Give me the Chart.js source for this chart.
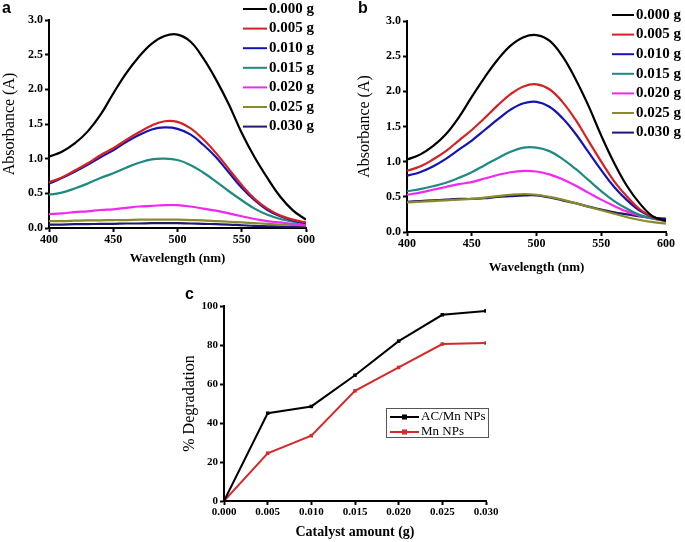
<!DOCTYPE html>
<html><head><meta charset="utf-8">
<script src="https://cdn.jsdelivr.net/npm/chart.js@4"></script>
<style>
html,body{margin:0;padding:0;background:#fff;width:685px;height:542px;overflow:hidden;position:relative}
canvas{position:absolute;display:block}
.lbl{position:absolute;font:bold 16px "Liberation Sans",Arial,sans-serif;color:#000;line-height:16px}
</style></head><body>
<canvas id="ca" width="340" height="270" style="left:0;top:0"></canvas>
<canvas id="cb" width="345" height="278" style="left:340px;top:0"></canvas>
<canvas id="cc" width="330" height="262" style="left:170px;top:280px"></canvas>
<div class="lbl" style="left:2px;top:0px">a</div>
<div class="lbl" style="left:358px;top:0px">b</div>
<div class="lbl" style="left:185px;top:286px">c</div>
<script>
// ---------- DATA ----------
const wavelengths = [400,410,420,430,440,450,460,470,480,490,500,510,520,530,540,550,560,570,580,590,600];
const seriesLabels = ['0.000 g','0.005 g','0.010 g','0.015 g','0.020 g','0.025 g','0.030 g'];
const seriesColors = ['#000000','#d42222','#1414b4','#1e8a80','#f028f0','#8a8a2a','#1a1a6e'];

// Panel a: AC/Mn NPs
const a000 = [1.03,1.10,1.22,1.39,1.63,1.94,2.23,2.47,2.66,2.77,2.79,2.69,2.45,2.14,1.78,1.37,1.02,0.72,0.45,0.25,0.12];
const a005 = [0.66,0.73,0.83,0.93,1.05,1.15,1.27,1.38,1.48,1.54,1.53,1.44,1.28,1.08,0.85,0.62,0.42,0.28,0.18,0.12,0.08];
const a010 = [0.64,0.72,0.81,0.91,1.02,1.12,1.24,1.34,1.42,1.45,1.43,1.35,1.20,1.02,0.80,0.58,0.40,0.26,0.17,0.11,0.07];
const a015 = [0.48,0.51,0.57,0.64,0.72,0.79,0.87,0.94,0.99,1.00,0.98,0.91,0.80,0.67,0.53,0.40,0.28,0.19,0.13,0.09,0.07];
const a020 = [0.20,0.21,0.23,0.24,0.26,0.27,0.29,0.31,0.32,0.33,0.33,0.31,0.28,0.25,0.21,0.17,0.13,0.10,0.08,0.06,0.05];
const a025 = [0.10,0.10,0.105,0.11,0.11,0.115,0.115,0.12,0.12,0.12,0.12,0.115,0.11,0.10,0.09,0.08,0.07,0.06,0.05,0.045,0.04];
const a030 = [0.05,0.05,0.055,0.055,0.06,0.06,0.065,0.065,0.07,0.07,0.07,0.065,0.06,0.055,0.05,0.04,0.03,0.025,0.02,0.015,0.01];

// Panel b: Mn NPs
const b000 = [1.03,1.10,1.22,1.39,1.63,1.92,2.20,2.45,2.65,2.77,2.80,2.72,2.50,2.18,1.80,1.37,0.98,0.65,0.40,0.22,0.16];
const b005 = [0.87,0.93,1.03,1.15,1.30,1.45,1.62,1.80,1.96,2.07,2.10,2.03,1.85,1.60,1.30,1.00,0.72,0.50,0.32,0.21,0.15];
const b010 = [0.80,0.85,0.93,1.04,1.17,1.30,1.45,1.60,1.74,1.83,1.85,1.78,1.62,1.40,1.14,0.88,0.64,0.45,0.30,0.21,0.17];
const b015 = [0.58,0.61,0.65,0.70,0.77,0.85,0.95,1.05,1.14,1.20,1.20,1.15,1.04,0.90,0.74,0.58,0.44,0.33,0.24,0.19,0.16];
const b020 = [0.53,0.56,0.60,0.64,0.68,0.71,0.76,0.81,0.85,0.87,0.86,0.82,0.75,0.66,0.56,0.46,0.37,0.29,0.23,0.19,0.17];
const b025 = [0.42,0.43,0.44,0.45,0.46,0.47,0.49,0.51,0.53,0.54,0.53,0.50,0.46,0.41,0.36,0.31,0.26,0.21,0.17,0.14,0.12];
const b030 = [0.43,0.44,0.45,0.46,0.47,0.47,0.48,0.50,0.51,0.52,0.52,0.49,0.45,0.41,0.36,0.32,0.28,0.25,0.22,0.20,0.19];

// Panel c: % degradation vs catalyst amount
const catalyst = [0.000,0.005,0.010,0.015,0.020,0.025,0.030];
const degACMn = [0,45,48.5,64.5,82,95.5,97.5];
const degMn   = [0,24.5,33.5,56.5,68.5,80.5,81];
const cLabels = ['AC/Mn NPs','Mn NPs'];
const cColors = ['#000000','#d42a2a'];

const absTicks = [0,0.5,1.0,1.5,2.0,2.5,3.0];
const wlTicks = [400,450,500,550,600];
const degTicks = [0,20,40,60,80,100];

// ---------- PLUGIN: legend drawn inside canvas ----------
const sideLegend = {
  id:'sideLegend',
  afterDraw(chart, args, o){
    if(!o || !o.show) return;
    const ctx = chart.ctx; ctx.save();
    if(o.box){ ctx.strokeStyle='#555'; ctx.lineWidth=1; ctx.strokeRect(o.box[0]+0.5,o.box[1]+0.5,o.box[2],o.box[3]); }
    chart.data.datasets.forEach((ds,i)=>{
      const y = o.y + i*o.dy;
      ctx.strokeStyle = ds.borderColor; ctx.lineWidth = o.lw;
      ctx.beginPath(); ctx.moveTo(o.x,y); ctx.lineTo(o.x+o.len,y); ctx.stroke();
      if(o.marker){ ctx.fillStyle=ds.borderColor; ctx.fillRect(o.x+o.len/2-2.5,y-2.5,5,5); }
      ctx.fillStyle='#000'; ctx.font=o.font; ctx.textBaseline='middle'; ctx.textAlign='left';
      ctx.fillText(ds.label, o.x+o.len+o.gap, y);
    });
    ctx.restore();
  }
};
Chart.register(sideLegend);

const SERIF = '"Liberation Serif","Times New Roman",serif';

function axisCommon(){
  return {
    grid:{display:true, drawOnChartArea:false, drawTicks:true, tickLength:4, tickWidth:2, tickColor:'#000'},
    border:{display:true, color:'#000', width:2}
  };
}

function spectrumChart(id, series, geom, legendGeom){
  const datasets = series.map((s,i)=>({
    label: seriesLabels[i], data: wavelengths.map((w,j)=>({x:w,y:s[j]})),
    borderColor: seriesColors[i], backgroundColor: seriesColors[i],
    borderWidth: 2.2, pointRadius: 0, tension: 0.4, fill:false
  }));
  return new Chart(document.getElementById(id), {
    type:'line',
    data:{datasets},
    options:{
      responsive:false, animation:false, devicePixelRatio:1,
      layout:{padding:{left:0, top:geom.top, right:geom.right, bottom:0}},
      plugins:{legend:{display:false}, tooltip:{enabled:false},
        sideLegend: Object.assign({show:true, lw:2, gap:2, font:'bold 15px '+SERIF}, legendGeom)},
      scales:{
        x: Object.assign(axisCommon(), {
          type:'linear', min:400, max:600,
          afterBuildTicks(s){ s.ticks = wlTicks.map(v=>({value:v})); },
          afterFit(s){ s.height = geom.xh; },
          ticks:{color:'#000', font:{family:SERIF, size:12, weight:'bold'}, padding:1, maxRotation:0},
          title:{display:true, text:'Wavelength (nm)', color:'#000', font:{family:SERIF, size:13, weight:'bold'}, padding:{top:0,bottom:geom.xtp}}
        }),
        y: Object.assign(axisCommon(), {
          min:0, max:3,
          afterBuildTicks(s){ s.ticks = absTicks.map(v=>({value:v})); },
          afterFit(s){ s.width = geom.yw; },
          ticks:{color:'#000', font:{family:SERIF, size:12, weight:'bold'}, padding:2, callback:v=>Number(v).toFixed(1)},
          title:{display:true, text:'Absorbance (A)', color:'#000', font:{family:SERIF, size:16}, padding:{top:geom.ytp,bottom:0}}
        })
      }
    }
  });
}

spectrumChart('ca', [a000,a005,a010,a015,a020,a025,a030],
  {top:20, right:34, xh:42, yw:49, xtp:4, ytp:0},
  {x:243, y:9, dy:19.6, len:24});
spectrumChart('cb', [b000,b005,b010,b015,b020,b025,b030],
  {top:21, right:19, xh:46, yw:67, xtp:3, ytp:15},
  {x:272, y:15, dy:19.6, len:22});

new Chart(document.getElementById('cc'), {
  type:'line',
  data:{datasets:[degACMn,degMn].map((s,i)=>({
    label:cLabels[i], data:catalyst.map((c,j)=>({x:c,y:s[j]})),
    borderColor:cColors[i], backgroundColor:cColors[i], borderWidth:2,
    pointStyle:'rect', pointRadius:2.5, pointBorderWidth:0, tension:0, fill:false
  }))},
  options:{
    responsive:false, animation:false, devicePixelRatio:1,
    layout:{padding:{left:0, top:26, right:14, bottom:0}},
    plugins:{legend:{display:false}, tooltip:{enabled:false},
      sideLegend:{show:true, x:220, y:137, dy:15, len:29, lw:2, gap:2, marker:true,
        font:'13px '+SERIF, box:[216,128,102,29]}},
    scales:{
      x: Object.assign(axisCommon(), {
        type:'linear', min:0, max:0.03,
        afterBuildTicks(s){ s.ticks = catalyst.map(v=>({value:v})); },
        afterFit(s){ s.height = 41; },
        ticks:{color:'#000', font:{family:SERIF, size:11, weight:'bold'}, padding:1, maxRotation:0, callback:v=>Number(v).toFixed(3)},
        title:{display:true, text:'Catalyst amount (g)', color:'#000', font:{family:SERIF, size:14, weight:'bold'}, padding:{top:0,bottom:1}}
      }),
      y: Object.assign(axisCommon(), {
        min:0, max:100,
        afterBuildTicks(s){ s.ticks = degTicks.map(v=>({value:v})); },
        afterFit(s){ s.width = 54; },
        ticks:{color:'#000', font:{family:SERIF, size:11, weight:'bold'}, padding:2},
        title:{display:true, text:'% Degradation', color:'#000', font:{family:SERIF, size:16}, padding:{top:10,bottom:0}}
      })
    }
  }
});
</script>
</body></html>
